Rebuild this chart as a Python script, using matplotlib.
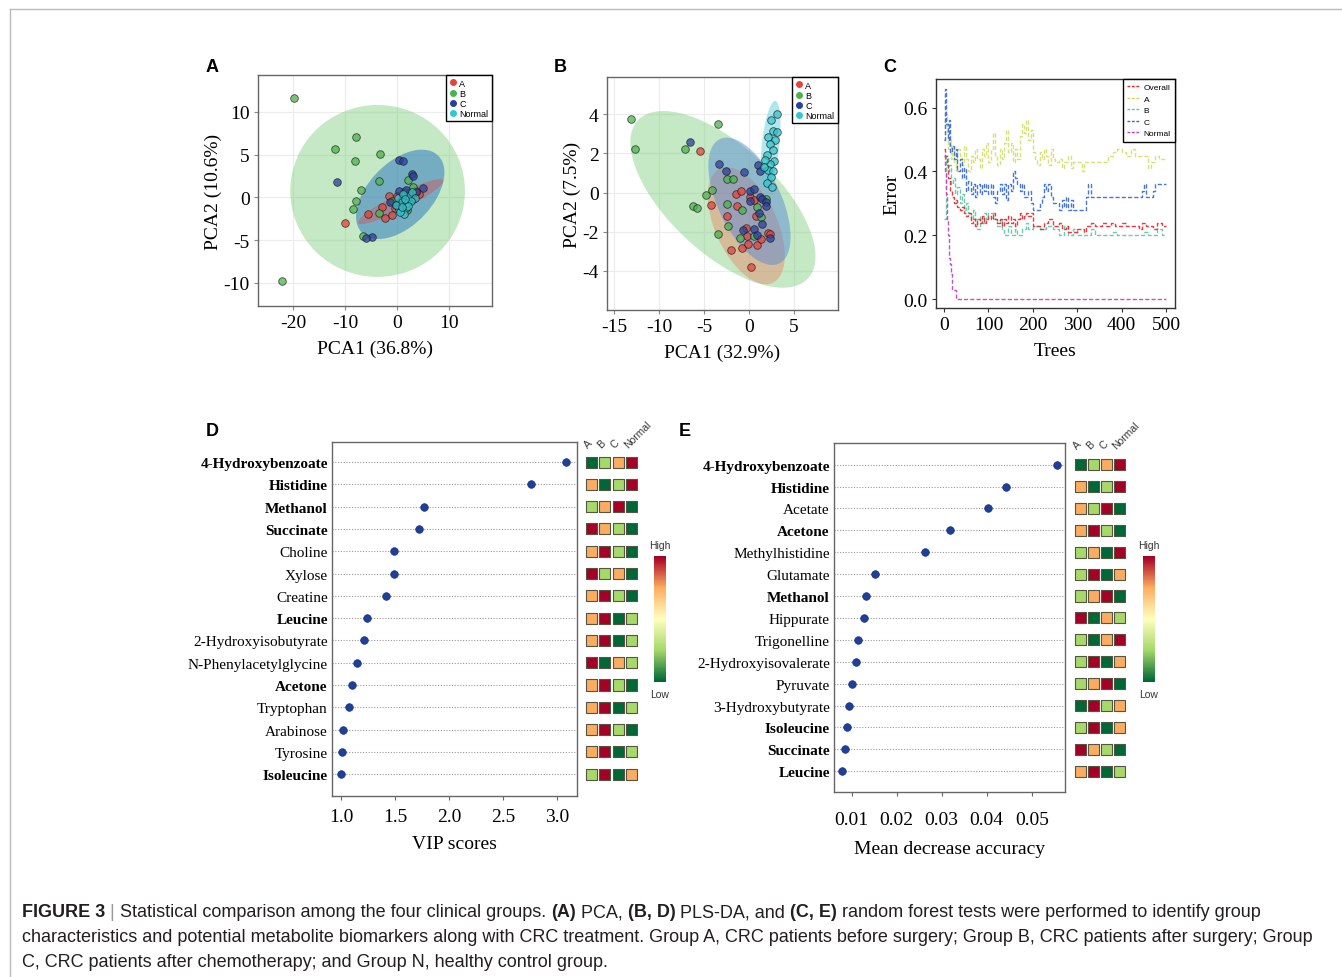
import numpy as np
import matplotlib
matplotlib.use('Agg')
import matplotlib.pyplot as plt
from matplotlib.patches import Ellipse
from matplotlib.lines import Line2D
from matplotlib.colors import LinearSegmentedColormap

plt.rcParams['font.family'] = 'Liberation Serif'
plt.rcParams['axes.unicode_minus'] = False
SANS = 'Liberation Sans'

# ---------------- data ----------------
groups = ['A', 'B', 'C', 'Normal']
pt_col = {'A': '#e8413a', 'B': '#4cb34c', 'C': '#2b3f9e', 'Normal': '#33c6d0'}

# panel A (PCA) scores
pcaA_x = {
    'A': [-10.0, -5.7, -2.9, -2.4, -1.7, -1.0, 4.1, 0.5, 1.5, 2.5, 3.5, -0.5, 0.0, 1.0, 3.0, 2.0],
    'B': [-19.9, -8.0, -12.0, -3.3, -8.1, -3.5, -7.0, -8.0, -8.6, -3.5, -6.6, -22.2, 2.1, 0.5, 1.2, 3.0, -1.0, 2.7, 1.8],
    'C': [-11.6, 0.3, 1.1, 2.9, 4.9, -4.8, -6.1, 0.3, -1.5, 3.0, 1.6, 2.4, 0.8, 3.6, -0.2],
    'Normal': [0.1, 0.9, 1.6, 0.4, 2.2, 2.8, 1.2, 0.6, 1.9, 3.4, 2.6, -0.2, 1.0, 2.0, 1.4, 0.8],
}
pcaA_y = {
    'A': [-3.0, -1.9, -1.1, -2.4, 0.2, -2.1, 0.4, -0.5, 0.3, -0.3, 0.8, -1.2, 0.1, -0.8, -0.2, 0.5],
    'B': [11.6, 7.0, 5.6, 5.1, 4.3, 1.9, 0.9, -0.4, -1.4, -1.8, -4.5, -9.8, 2.0, -0.6, 0.6, 1.2, -0.4, -0.2, -1.5],
    'C': [1.8, 4.4, 4.3, 2.7, 1.1, -4.6, -4.7, 0.8, -0.6, 2.5, 0.9, 0.0, -0.2, 0.6, -0.9],
    'Normal': [-0.1, -0.5, -1.2, -1.4, 0.2, 0.6, -1.9, -1.7, -0.7, -0.1, -0.4, -0.9, 0.4, -1.0, -0.2, -1.1],
}
# confidence ellipses: centre x, centre y, width, height, angle
pcaA_ell = {
    'B': (-3.8, 0.75, 33.6, 20.1, 0),
    'C': (0.55, 0.35, 18.0, 8.6, 22),
    'A': (0.65, -0.5, 17.1, 2.0, 16.6),
    'Normal': (1.4, -0.6, 5.5, 2.2, 20),
}

# panel B (PLS-DA) scores
plsB_x = {
    'A': [-5.4, -4.2, -2.5, -1.4, -0.9, 0.1, 0.5, -1.3, -0.2, -2.0, -0.8, -0.1, 0.9, 0.2, 1.3, 2.1, 2.3, 0.8, -0.3],
    'B': [-13.1, -12.7, -3.5, -7.1, -4.1, -4.8, -6.2, -5.8, -3.4, -2.4, -1.8, -2.5, -2.3, -1.0, 0.85, 1.3, 1.9, 0.5, -0.8],
    'C': [-6.6, -3.3, -2.6, -0.6, 1.0, 1.2, 0.1, 0.6, 1.2, 1.5, 1.9, 1.9, -0.7, 0.5, 2.3, 1.4, 0.1, 1.1, 0.9],
    'Normal': [2.4, 3.1, 2.7, 3.1, 2.1, 2.9, 2.3, 2.7, 2.0, 2.8, 2.3, 1.8, 2.1, 2.7, 2.5, 2.0, 2.6, 1.7],
}
plsB_y = {
    'A': [2.1, -0.65, -1.2, -0.05, 0.1, -0.25, -0.4, -0.7, -2.2, -2.95, -2.85, -2.65, -2.7, -3.8, -2.35, -2.05, -2.1, -1.2, -1.8],
    'B': [3.75, 2.2, 3.5, 2.2, 0.15, -0.15, -0.7, -0.8, -2.1, 0.7, 0.7, -0.6, -1.7, -2.3, -0.75, -1.25, -0.35, -2.2, -0.9],
    'C': [2.6, 1.45, 1.1, 1.05, 1.4, 1.1, 0.1, 0.2, -0.25, -0.35, -0.5, -0.7, -1.9, -1.85, -2.3, -1.6, -0.45, -1.05, -2.15],
    'Normal': [3.7, 4.0, 3.15, 3.1, 2.85, 2.7, 2.5, 2.15, 1.9, 1.6, 1.45, 1.65, 1.15, 1.1, 0.8, 0.5, 0.3, 1.3],
}
plsB_ell = {
    'B': (-2.9, -0.35, 21.5, 6.6, -17.5),
    'A': (-0.3, -1.7, 9.3, 4.75, -27),
    'C': (0.05, -0.45, 10.1, 4.9, -29),
    'Normal': (2.4, 2.43, 4.64, 1.9, 74.9),
}

# panel C (random forest error rate vs trees)
rf_trees = {
    'Overall': [1, 3, 6, 10, 14, 18, 22, 26, 30, 35, 40, 45, 50, 55, 60, 65, 70, 75, 80, 85, 90, 95, 100,
                105, 110, 115, 120, 125, 130, 135, 140, 145, 150, 155, 160, 165, 170, 175, 180, 185, 190,
                195, 200, 215, 225, 235, 245, 260, 265, 275, 280, 300, 315, 320, 330, 340, 355, 365, 375,
                385, 400, 410, 440, 445, 455, 470, 480, 490, 500],
    'A': [1, 3, 6, 9, 12, 15, 18, 22, 26, 30, 35, 40, 45, 50, 55, 60, 65, 70, 75, 80, 85, 90, 95, 100, 105,
          110, 115, 120, 125, 130, 135, 140, 145, 150, 155, 160, 165, 170, 175, 180, 185, 190, 195, 200, 205,
          210, 215, 220, 225, 230, 235, 240, 245, 250, 260, 265, 270, 280, 285, 290, 300, 310, 315, 330, 370,
          380, 390, 400, 410, 420, 430, 450, 460, 465, 475, 485, 500],
    'B': [1, 4, 8, 12, 16, 20, 25, 30, 35, 40, 45, 50, 55, 60, 65, 70, 75, 80, 85, 90, 95, 100, 110, 120, 125,
          130, 135, 145, 150, 160, 165, 175, 185, 190, 200, 215, 230, 245, 260, 270, 280, 290, 300, 330, 340,
          380, 390, 450, 460, 480, 490, 500],
    'C': [1, 3, 5, 8, 11, 14, 18, 22, 26, 30, 35, 40, 45, 50, 55, 60, 65, 70, 75, 80, 85, 90, 95, 100, 105,
          110, 115, 120, 125, 130, 135, 140, 145, 150, 155, 160, 165, 170, 175, 180, 190, 195, 200, 215, 220,
          225, 230, 235, 240, 245, 260, 265, 270, 275, 280, 285, 290, 320, 325, 330, 445, 450, 455, 470, 475, 500],
    'Normal': [1, 3, 5, 7, 9, 11, 14, 16, 18, 25, 28, 500],
}
rf_err = {
    'Overall': [0.47, 0.45, 0.42, 0.38, 0.34, 0.32, 0.30, 0.31, 0.29, 0.28, 0.29, 0.27, 0.26, 0.27, 0.24, 0.25,
                0.23, 0.25, 0.24, 0.26, 0.24, 0.25, 0.26, 0.25, 0.27, 0.25, 0.24, 0.25, 0.23, 0.25, 0.24, 0.26,
                0.24, 0.25, 0.23, 0.25, 0.27, 0.25, 0.26, 0.27, 0.26, 0.27, 0.23, 0.22, 0.24, 0.25, 0.23, 0.24,
                0.22, 0.23, 0.21, 0.22, 0.21, 0.23, 0.24, 0.23, 0.24, 0.23, 0.24, 0.23, 0.24, 0.23, 0.22, 0.24,
                0.23, 0.22, 0.24, 0.23, 0.23],
    'A': [0.50, 0.58, 0.52, 0.47, 0.50, 0.44, 0.48, 0.43, 0.40, 0.47, 0.45, 0.42, 0.48, 0.44, 0.40, 0.45, 0.43,
          0.47, 0.44, 0.41, 0.47, 0.45, 0.49, 0.43, 0.47, 0.52, 0.45, 0.42, 0.47, 0.44, 0.49, 0.53, 0.46, 0.49,
          0.43, 0.47, 0.44, 0.51, 0.55, 0.52, 0.56, 0.50, 0.53, 0.46, 0.44, 0.42, 0.46, 0.44, 0.47, 0.45, 0.42,
          0.47, 0.44, 0.43, 0.44, 0.41, 0.43, 0.45, 0.41, 0.43, 0.43, 0.40, 0.43, 0.43, 0.45, 0.46, 0.47, 0.46,
          0.45, 0.47, 0.45, 0.45, 0.41, 0.43, 0.45, 0.44, 0.44],
    'B': [0.25, 0.45, 0.40, 0.42, 0.36, 0.38, 0.33, 0.35, 0.30, 0.33, 0.28, 0.30, 0.27, 0.25, 0.28, 0.25, 0.22,
          0.26, 0.24, 0.27, 0.25, 0.27, 0.25, 0.23, 0.25, 0.22, 0.20, 0.23, 0.20, 0.22, 0.20, 0.22, 0.24, 0.22,
          0.23, 0.22, 0.23, 0.22, 0.20, 0.23, 0.20, 0.22, 0.20, 0.22, 0.20, 0.21, 0.20, 0.21, 0.20, 0.22, 0.20,
          0.20],
    'C': [0.50, 0.66, 0.55, 0.50, 0.56, 0.46, 0.48, 0.44, 0.47, 0.40, 0.44, 0.38, 0.41, 0.34, 0.37, 0.33, 0.36,
          0.32, 0.36, 0.33, 0.36, 0.34, 0.36, 0.33, 0.36, 0.32, 0.30, 0.34, 0.36, 0.33, 0.36, 0.31, 0.36, 0.34,
          0.40, 0.38, 0.36, 0.34, 0.36, 0.32, 0.34, 0.30, 0.28, 0.30, 0.32, 0.36, 0.34, 0.36, 0.32, 0.30, 0.28,
          0.31, 0.29, 0.32, 0.28, 0.31, 0.28, 0.32, 0.36, 0.32, 0.34, 0.36, 0.32, 0.34, 0.36, 0.36],
    'Normal': [0.45, 0.40, 0.33, 0.25, 0.20, 0.13, 0.11, 0.08, 0.03, 0.03, 0.0, 0.0],
}
rf_col = {'Overall': '#e8262b', 'A': '#c9d94a', 'B': '#5cc6a0', 'C': '#3568d4', 'Normal': '#c03fc0'}

# panel D (VIP scores, PLS-DA)
vip_names = ['4-Hydroxybenzoate', 'Histidine', 'Methanol', 'Succinate', 'Choline', 'Xylose', 'Creatine',
             'Leucine', '2-Hydroxyisobutyrate', 'N-Phenylacetylglycine', 'Acetone', 'Tryptophan',
             'Arabinose', 'Tyrosine', 'Isoleucine']
vip_scores = [3.08, 2.76, 1.77, 1.72, 1.49, 1.49, 1.42, 1.24, 1.21, 1.15, 1.10, 1.07, 1.016, 1.007, 1.0]
vip_bold = ['4-Hydroxybenzoate', 'Histidine', 'Methanol', 'Succinate', 'Leucine', 'Acetone', 'Isoleucine']
# relative level in groups A, B, C, Normal (1 = low ... 4 = high)
vip_heat = [[1, 2, 3, 4], [3, 1, 2, 4], [2, 3, 4, 1], [4, 3, 2, 1], [3, 4, 2, 1], [4, 2, 3, 1],
            [3, 4, 2, 1], [3, 4, 1, 2], [3, 4, 1, 2], [4, 1, 3, 2], [3, 4, 2, 1], [3, 4, 1, 2],
            [3, 4, 2, 1], [3, 4, 1, 2], [2, 4, 1, 3]]

# panel E (mean decrease accuracy, random forest)
mda_names = ['4-Hydroxybenzoate', 'Histidine', 'Acetate', 'Acetone', 'Methylhistidine', 'Glutamate',
             'Methanol', 'Hippurate', 'Trigonelline', '2-Hydroxyisovalerate', 'Pyruvate',
             '3-Hydroxybutyrate', 'Isoleucine', 'Succinate', 'Leucine']
mda_scores = [0.0556, 0.0442, 0.0404, 0.0318, 0.0262, 0.0152, 0.0131, 0.0128, 0.0115, 0.0110, 0.0101,
              0.0093, 0.0090, 0.0085, 0.0079]
mda_bold = ['4-Hydroxybenzoate', 'Histidine', 'Acetone', 'Methanol', 'Isoleucine', 'Succinate', 'Leucine']
mda_heat = [[1, 2, 3, 4], [3, 1, 2, 4], [3, 2, 4, 1], [3, 4, 2, 1], [2, 3, 1, 4], [2, 4, 1, 3],
            [2, 3, 4, 1], [4, 1, 3, 2], [2, 1, 3, 4], [2, 4, 1, 3], [2, 3, 4, 1], [1, 4, 2, 3],
            [2, 4, 1, 3], [4, 3, 2, 1], [3, 4, 1, 2]]

caption_lines = [
    [("FIGURE 3", 'bold'), (" | ", 'light'), ("Statistical comparison among the four clinical groups. ", 'normal'),
     ("(A)", 'bold'), (" PCA, ", 'normal'), ("(B, D)", 'bold'), (" PLS-DA, and ", 'normal'), ("(C, E)", 'bold'),
     (" random forest tests were performed to identify group", 'normal')],
    [("characteristics and potential metabolite biomarkers along with CRC treatment. Group A, CRC patients "
      "before surgery; Group B, CRC patients after surgery; Group", 'normal')],
    [("C, CRC patients after chemotherapy; and Group N, healthy control group.", 'normal')],
]

# ---------------- figure ----------------
W, H = 1342, 978
fig = plt.figure(figsize=(W / 100, H / 100), dpi=100)


def px_axes(left, top, right, bottom):
    return fig.add_axes([left / W, 1 - bottom / H, (right - left) / W, (bottom - top) / H])


def panel_letter(x, y, s):
    fig.text(x / W, 1 - y / H, s, family=SANS, fontweight='bold', fontsize=13, ha='center', va='center')


def style_box(ax, color='#666666'):
    for sp in ax.spines.values():
        sp.set_color(color)
        sp.set_linewidth(1.0)


def group_legend(ax):
    handles = [Line2D([], [], ls='none', marker='o', ms=4, mfc=pt_col[g], mec=pt_col[g]) for g in groups]
    leg = ax.legend(handles, groups, loc='upper right', borderaxespad=0.0,
                    prop={'family': SANS, 'size': 6.5}, handlelength=0.8, handletextpad=0.3,
                    labelspacing=0.12, borderpad=0.4, fancybox=False, framealpha=1)
    leg.get_frame().set_edgecolor('black')
    leg.get_frame().set_linewidth(1.0)


def score_panel(ax, xs, ys, ells, ell_col, ell_alpha, order, xlim, ylim, xticks, yticks, xlabel, ylabel):
    ax.set_xlim(xlim)
    ax.set_ylim(ylim)
    ax.grid(True, color='#ececec', lw=0.8)
    ax.set_axisbelow(True)
    for g in order:
        cx, cy, w, h, ang = ells[g]
        ax.add_patch(Ellipse((cx, cy), w, h, angle=ang, fc=ell_col[g], alpha=ell_alpha[g], ec='none', zorder=1))
    for g in groups:
        ax.scatter(xs[g], ys[g], s=30, c=pt_col[g], edgecolors='#1a1a1a', linewidths=0.6, alpha=0.75, zorder=3)
    ax.set_xticks(xticks)
    ax.set_yticks(yticks)
    ax.tick_params(length=3, color='#888888', labelsize=14, pad=3)
    ax.set_xlabel(xlabel, fontsize=14, labelpad=6)
    ax.set_ylabel(ylabel, fontsize=14, labelpad=1)
    style_box(ax)
    group_legend(ax)


# panel A
axA = px_axes(258, 76, 492, 307)
score_panel(axA, pcaA_x, pcaA_y, pcaA_ell,
            {'B': '#7ccf7c', 'C': '#3f85c2', 'A': '#d4505a', 'Normal': '#44cbd6'},
            {'B': 0.45, 'C': 0.6, 'A': 0.45, 'Normal': 0.4},
            ['B', 'C', 'A', 'Normal'], (-26.8, 18.2), (-12.7, 14.3),
            [-20, -10, 0, 10], [-10, -5, 0, 5, 10], 'PCA1 (36.8%)', 'PCA2 (10.6%)')
panel_letter(212, 68, 'A')

# panel B
axB = px_axes(607, 78, 838, 311)
score_panel(axB, plsB_x, plsB_y, plsB_ell,
            {'B': '#7ccf7c', 'A': '#ee7a5e', 'C': '#4f82d8', 'Normal': '#5fd0dc'},
            {'B': 0.45, 'A': 0.4, 'C': 0.45, 'Normal': 0.5},
            ['B', 'A', 'C', 'Normal'], (-15.8, 9.9), (-6.0, 5.9),
            [-15, -10, -5, 0, 5], [-4, -2, 0, 2, 4], 'PCA1 (32.9%)', 'PCA2 (7.5%)')
panel_letter(560, 68, 'B')

# panel C
axC = px_axes(936, 80, 1175, 309)
for k in ['A', 'B', 'C', 'Overall', 'Normal']:
    axC.plot(rf_trees[k], rf_err[k], drawstyle='steps-post', color=rf_col[k], lw=1.0,
             ls=(0, (3, 1.5)), alpha=0.9 if k != 'A' else 0.75)
axC.set_xlim(-18, 520)
axC.set_ylim(-0.028, 0.69)
axC.set_xticks([0, 100, 200, 300, 400, 500])
axC.set_yticks([0.0, 0.2, 0.4, 0.6])
axC.set_yticklabels(['0.0', '0.2', '0.4', '0.6'])
axC.tick_params(length=3, color='#333333', labelsize=14, pad=3)
axC.set_xlabel('Trees', fontsize=14, labelpad=6)
axC.set_ylabel('Error', fontsize=14, labelpad=2)
style_box(axC, '#333333')
leg_keys = ['Overall', 'A', 'B', 'C', 'Normal']
legC = axC.legend([Line2D([], [], color=rf_col[k], lw=1.0, ls=(0, (2, 1.2))) for k in leg_keys], leg_keys,
                  loc='upper right', borderaxespad=0.0, prop={'family': SANS, 'size': 6}, handlelength=1.6,
                  handletextpad=0.4, labelspacing=0.45, borderpad=0.5, fancybox=False, framealpha=1)
legC.get_frame().set_edgecolor('black')
legC.get_frame().set_linewidth(1.0)
panel_letter(890, 68, 'C')

# heatmap colours
heat_cmap = LinearSegmentedColormap.from_list('lh', ['#006837', '#a6d96a', '#ffffbf', '#fdae61', '#a50026'])


def importance_panel(box, heat_box, cbar_box, names, scores, bold, heat, ylim, xlim, xticks, xticklabels,
                     xlabel, label_pad, tick_pad):
    ax = px_axes(*box)
    rows = np.arange(len(names))
    for r in rows:
        ax.axhline(r, color='#9a9a9a', lw=0.8, ls=(0, (1, 1.5)), zorder=1)
    ax.scatter(scores, rows, s=30, color='#1f3f9a', edgecolors='#16307a', linewidths=0.5, zorder=3)
    ax.set_ylim(ylim)
    ax.set_xlim(xlim)
    ax.set_yticks(rows)
    ax.set_yticklabels(names, fontsize=11)
    for lab in ax.get_yticklabels():
        if lab.get_text() in bold:
            lab.set_fontweight('bold')
    ax.tick_params(axis='y', length=0, pad=3)
    ax.set_xticks(xticks)
    ax.set_xticklabels(xticklabels)
    ax.tick_params(axis='x', length=3, color='#666666', labelsize=14, pad=tick_pad)
    ax.set_xlabel(xlabel, fontsize=14, labelpad=label_pad)
    style_box(ax)

    hx = px_axes(*heat_box)
    cols = np.tile(np.arange(4), len(names))
    rr = np.repeat(rows, 4)
    hx.scatter(cols, rr, c=np.array(heat).ravel(), cmap=heat_cmap, vmin=1.5, vmax=3.5, marker='s', s=64,
               edgecolors='#555544', linewidths=0.8)
    hx.set_ylim(ylim)
    hx.set_xlim(-0.5, 3.5)
    hx.axis('off')
    for i, g in enumerate(groups):
        hx.text(i - 0.15, ylim[1] + 0.35, g, rotation=45, ha='left', va='bottom', family=SANS, fontsize=7.5,
                color='#333333', rotation_mode='anchor')

    cx = px_axes(*cbar_box)
    cx.imshow(np.linspace(1, 0, 100).reshape(-1, 1), cmap=heat_cmap, aspect='auto')
    cx.set_xticks([])
    cx.set_yticks([])
    for sp in cx.spines.values():
        sp.set_visible(False)
    l, t, r, b = cbar_box
    fig.text((l + r) / 2 / W, 1 - (t - 11) / H, 'High', family=SANS, fontsize=7.5, ha='center', va='center',
             color='#333333')
    fig.text((l + r) / 2 / W, 1 - (b + 12) / H, 'Low', family=SANS, fontsize=7.5, ha='center', va='center',
             color='#333333')
    return ax


importance_panel((332, 443, 577, 797), (585, 443, 638, 797), (654, 557, 666, 683),
                 vip_names, vip_scores, vip_bold, vip_heat, (14.98, -0.9), (0.917, 3.185),
                 [1.0, 1.5, 2.0, 2.5, 3.0], ['1.0', '1.5', '2.0', '2.5', '3.0'], 'VIP scores', 7, 6)
panel_letter(212, 432, 'D')

importance_panel((834, 444, 1065, 793), (1074, 444, 1126, 793), (1143, 557, 1155, 683),
                 mda_names, mda_scores, mda_bold, mda_heat, (14.95, -0.99), (0.00607, 0.0574),
                 [0.01, 0.02, 0.03, 0.04, 0.05], ['0.01', '0.02', '0.03', '0.04', '0.05'],
                 'Mean decrease accuracy', 8, 11)
panel_letter(685, 432, 'E')

# outer frame lines
fig.add_artist(Line2D([10 / W, 1], [1 - 10 / H, 1 - 10 / H], color='#bbbbbb', lw=1.0))
fig.add_artist(Line2D([10 / W, 10 / W], [0, 1 - 10 / H], color='#bbbbbb', lw=1.0))

# caption with mixed weights
renderer = fig.canvas.get_renderer()
cap_size = 13.0


def run_width(s, w):
    a = fig.text(0, 0, '|' + s + '|', family=SANS, fontsize=cap_size, fontweight=w)
    b = fig.text(0, 0, '||', family=SANS, fontsize=cap_size, fontweight=w)
    width = a.get_window_extent(renderer).width - b.get_window_extent(renderer).width
    a.remove()
    b.remove()
    return width


for line, yc in zip(caption_lines, [913, 938, 963]):
    x = 22
    for s, w in line:
        weight = 'normal' if w == 'light' else w
        color = '#999999' if w == 'light' else '#231f20'
        fig.text(x / W, 1 - yc / H, s, family=SANS, fontsize=cap_size, fontweight=weight,
                 color=color, ha='left', va='center')
        x += run_width(s, weight)

fig.savefig('out.png', dpi=100)
